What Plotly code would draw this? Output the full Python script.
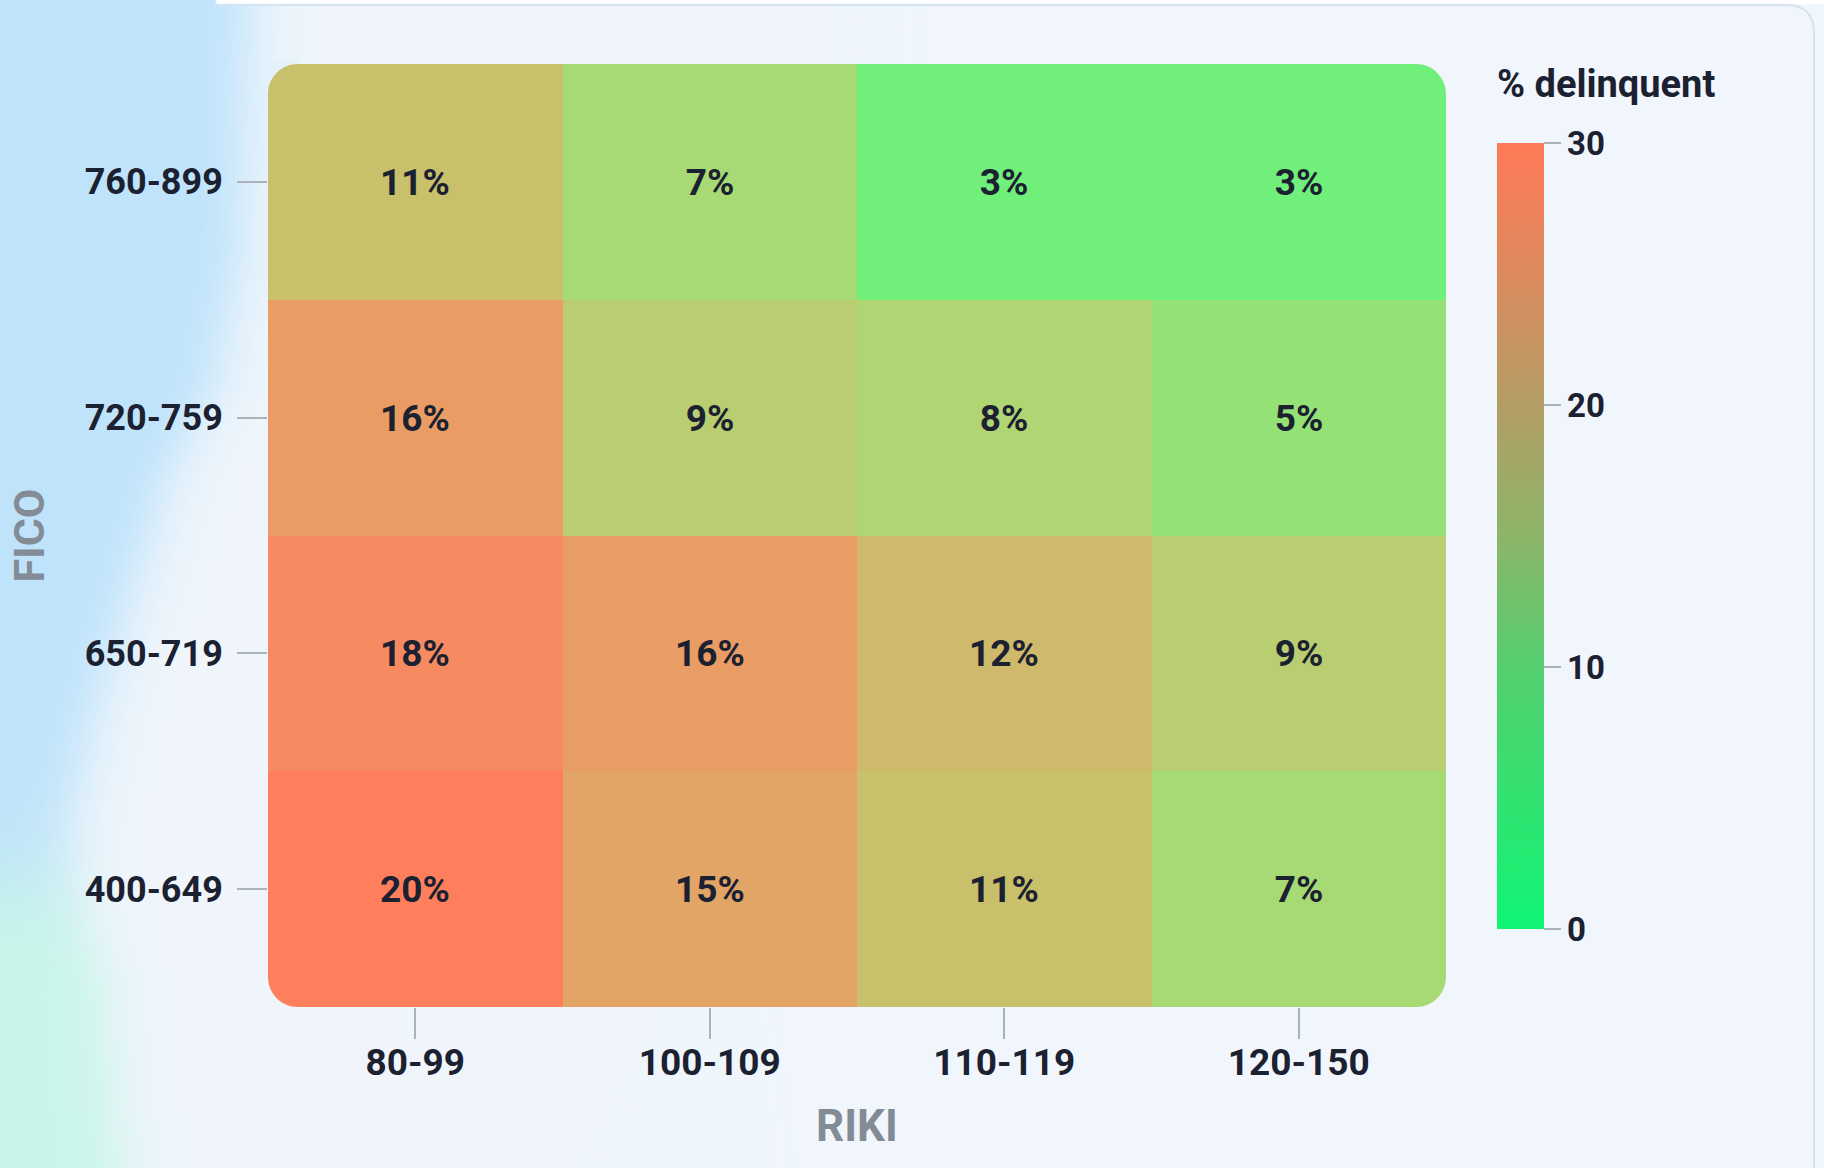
import base64
import struct
import zlib

import numpy as np
import plotly.graph_objects as go

# ---------------- data ----------------
riki_bins = ["80-99", "100-109", "110-119", "120-150"]
fico_bins = ["400-649", "650-719", "720-759", "760-899"]  # bottom -> top
pct_400_649 = [20, 15, 11, 7]
pct_650_719 = [18, 16, 12, 9]
pct_720_759 = [16, 9, 8, 5]
pct_760_899 = [11, 7, 3, 3]
colorbar_ticks = [0, 10, 20, 30]

z = [pct_400_649, pct_650_719, pct_720_759, pct_760_899]

# ---------------- geometry ----------------
W, H = 1824, 1168
L, R, T, B = 268, 378, 64, 161
PW, PH = W - L - R, H - T - B


def px2paper(x, y):
    return (x - L) / PW, 1 - (y - T) / PH


# ---------------- background picture ----------------
S = 2
gx = np.arange(0, W, S) + S / 2
gy = np.arange(0, H, S) + S / 2
X, Y = np.meshgrid(gx, gy)
edge = np.interp(Y, [0, 250, 380, 480, 600, 720, 820, 880, 980, 1168],
                 [248, 240, 215, 165, 128, 92, 70, 72, 100, 118])
a = 1 / (1 + np.exp((X - edge) / 18))
m = 1 / (1 + np.exp(-(Y - 880) / 30))
base = np.array([240, 246, 252], float)
blue = np.array([190, 227, 251], float)
mint = np.array([200, 246, 234], float)
blob = blue[None, None, :] * (1 - m[..., None]) + mint[None, None, :] * m[..., None]
img = base[None, None, :] * (1 - a[..., None]) + blob * a[..., None]
top = (Y < 5) & (X > 215)
img[top] = [255, 255, 255]
img = np.clip(img, 0, 255).astype(np.uint8)


def bg_color(x, y):
    c = img[min(int(y / S), img.shape[0] - 1), min(int(x / S), img.shape[1] - 1)]
    return "#%02x%02x%02x" % tuple(int(v) for v in c)


def png_uri(arr):
    h, w, _ = arr.shape
    raw = b"".join(b"\x00" + arr[i].tobytes() for i in range(h))

    def chunk(t, d):
        return struct.pack(">I", len(d)) + t + d + struct.pack(">I", zlib.crc32(t + d) & 0xFFFFFFFF)

    png = (b"\x89PNG\r\n\x1a\n"
           + chunk(b"IHDR", struct.pack(">IIBBBBB", w, h, 8, 2, 0, 0, 0))
           + chunk(b"IDAT", zlib.compress(raw, 9))
           + chunk(b"IEND", b""))
    return "data:image/png;base64," + base64.b64encode(png).decode()


# ---------------- colours ----------------
cell_scale = [
    [0.0, "#70F07A"],
    [2 / 17, "#94E275"],
    [5 / 17, "#B0D573"],
    [8 / 17, "#C8C06B"],
    [12 / 17, "#E2A566"],
    [15 / 17, "#F68A61"],
    [1.0, "#FF7F5D"],
]
bar_scale = [
    [0.0, "#10F573"],
    [0.333, "#55CF70"],
    [0.5, "#8DB56A"],
    [0.667, "#B39D65"],
    [0.833, "#DC8A5E"],
    [1.0, "#FF7A57"],
]

FONT = "Roboto"
DARK = "#1b2130"
GREY = "#838b96"

fig = go.Figure()
fig.add_trace(go.Heatmap(
    x=riki_bins, y=fico_bins, z=z,
    zmin=3, zmax=20, colorscale=cell_scale, showscale=False,
    texttemplate="%{z}%",
    textfont=dict(family=FONT, size=37, color=DARK, weight=700),
    hoverinfo="skip",
))

# colour bar (own scale 0-30)
bar_top, bar_bot = 143, 929
bar_left, bar_th = 1497, 47
cbx, _ = px2paper(bar_left, 0)
_, cby = px2paper(0, (bar_top + bar_bot) / 2)
fig.add_trace(go.Scatter(
    x=[riki_bins[0]], y=[fico_bins[0]], mode="markers",
    marker=dict(size=1, opacity=0, color=[colorbar_ticks[0]],
                cmin=colorbar_ticks[0], cmax=colorbar_ticks[-1],
                colorscale=bar_scale, showscale=True,
                colorbar=dict(
                    x=cbx, xanchor="left", xpad=0, y=cby, yanchor="middle", ypad=0,
                    len=bar_bot - bar_top, lenmode="pixels", thickness=bar_th,
                    outlinewidth=0, tickvals=colorbar_ticks, ticks="outside",
                    ticklen=17, tickwidth=2, tickcolor="#aab2bb",
                    tickprefix="\u00a0",
                    tickfont=dict(family=FONT, size=33, color=DARK, weight=700),
                )),
    hoverinfo="skip", showlegend=False,
))

# ---------------- rounded corner masks ----------------
K = 0.5523


def corner_mask(cx, cy, r, dx, dy, color):
    pts = {
        "P1": (cx, cy + dy * r),
        "P1o": (cx - dx * 3, cy + dy * r),
        "P0o": (cx - dx * 3, cy - dy * 3),
        "P2o": (cx + dx * r, cy - dy * 3),
        "P2": (cx + dx * r, cy),
        "C1": (cx + dx * r * (1 - K), cy),
        "C2": (cx, cy + dy * r * (1 - K)),
    }
    p = {k: px2paper(*v) for k, v in pts.items()}
    f = lambda q: "%.6f,%.6f" % q
    path = ("M " + f(p["P1"]) + " L " + f(p["P1o"]) + " L " + f(p["P0o"]) + " L " + f(p["P2o"])
            + " L " + f(p["P2"]) + " C " + f(p["C1"]) + " " + f(p["C2"]) + " " + f(p["P1"]) + " Z")
    return dict(type="path", xref="paper", yref="paper", path=path,
                fillcolor=color, line=dict(width=0), layer="above")


shapes = []
hx0, hx1, hy0, hy1, hr = L, W - R, T, H - B, 30
for cx, cy, dx, dy in [(hx0, hy0, 1, 1), (hx1, hy0, -1, 1), (hx0, hy1, 1, -1), (hx1, hy1, -1, -1)]:
    shapes.append(corner_mask(cx, cy, hr, dx, dy, bg_color(cx - dx * 4, cy - dy * 4)))

# card border (top + right edge)
cr = 28
pa = [px2paper(215, 5), px2paper(1814 - cr, 5), px2paper(1814, 5), px2paper(1814, 5 + cr), px2paper(1814, 1170)]
border = ("M %.6f,%.6f L %.6f,%.6f Q %.6f,%.6f %.6f,%.6f L %.6f,%.6f"
          % (pa[0] + pa[1] + pa[2] + pa[3] + pa[4]))
shapes.append(dict(type="path", xref="paper", yref="paper", path=border,
                   line=dict(color="#d5e4f1", width=2), layer="below"))

ix, iy = px2paper(0, 0)
tx, ty = px2paper(bar_left - 2, 84)

fig.update_layout(
    width=W, height=H,
    margin=dict(l=L, r=R, t=T, b=B, autoexpand=False),
    paper_bgcolor="#f0f6fc", plot_bgcolor="rgba(0,0,0,0)",
    font=dict(family=FONT, color=DARK),
    shapes=shapes,
    images=[dict(source=png_uri(img), xref="paper", yref="paper", x=ix, y=iy,
                 sizex=W / PW, sizey=H / PH, xanchor="left", yanchor="top",
                 sizing="stretch", layer="below")],
    annotations=[dict(text="% delinquent", xref="paper", yref="paper", x=tx, y=ty,
                      xanchor="left", yanchor="middle", showarrow=False,
                      font=dict(family=FONT, size=38, color=DARK, weight=700))],
    xaxis=dict(
        type="category", range=[-0.5, 3.5], showgrid=False, zeroline=False, showline=False,
        ticks="outside", ticklen=31, tickwidth=2, tickcolor="#aab2bb",
        ticklabelstandoff=-8,
        tickfont=dict(family=FONT, size=37, color=DARK, weight=700),
        title=dict(text="RIKI", standoff=26, font=dict(family=FONT, size=44, color=GREY, weight=700)),
    ),
    yaxis=dict(
        type="category", range=[-0.5, 3.5], showgrid=False, zeroline=False, showline=False,
        ticks="outside", ticklen=30, tickwidth=2, tickcolor="#aab2bb",
        ticklabelstandoff=7,
        tickfont=dict(family=FONT, size=36, color=DARK, weight=700),
        title=dict(text="FICO", standoff=26, font=dict(family=FONT, size=43, color=GREY, weight=700)),
    ),
)

fig.write_html("out.html")
